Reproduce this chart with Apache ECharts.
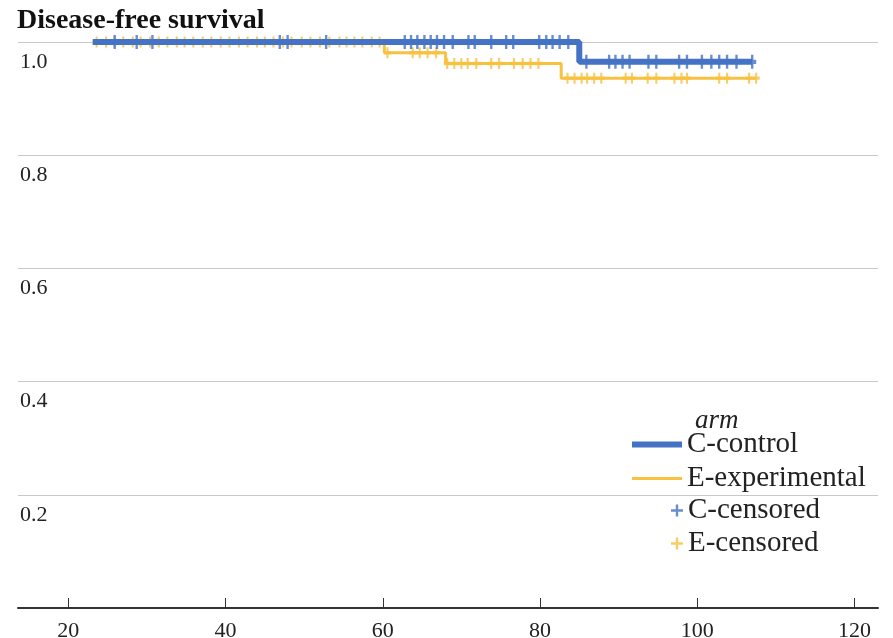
<!DOCTYPE html>
<html>
<head>
<meta charset="utf-8">
<title>Disease-free survival</title>
<script src="https://cdn.jsdelivr.net/npm/echarts@6/dist/echarts.min.js"></script>
<style>
  html, body { margin: 0; padding: 0; background: #fff; }
  #chart { width: 893px; height: 638px; }
</style>
</head>
<body>
<div id="chart"></div>
<script>
// Kaplan-Meier step curves: [time, survival after that time]
const controlSteps = [[23.1, 1.0], [85.0, 0.965], [107.0, 0.965]];
const experimentalSteps = [[23.1, 1.0], [60.2, 0.981], [68.0, 0.962], [82.7, 0.936], [107.5, 0.936]];

// Censoring times per arm
const controlCensored = [
  25.9, 28.7, 30.7, 46.9, 47.9, 52.8, 62.8, 63.6, 64.4, 65.3, 66.1, 66.9, 67.8, 68.9,
  70.9, 71.7, 73.8, 75.7, 76.6, 79.9, 80.8, 81.6, 82.5, 83.6,
  85.9, 88.8, 89.6, 90.5, 91.4, 93.8, 94.8, 97.7, 98.7, 100.6, 101.8, 102.8, 103.8, 105.0, 107.0
];
const experimentalCensored = [
  23.6, 24.8, 25.9, 27.0, 28.2, 29.2, 30.4, 31.5, 32.6, 33.8, 34.8, 35.9, 37.1, 38.2,
  39.4, 40.5, 41.7, 42.8, 44.0, 45.0, 46.1, 47.3, 48.4, 49.7, 50.8, 52.0, 53.2, 54.5,
  55.4, 56.4, 57.4, 58.6, 59.6,
  60.6, 63.8, 64.7, 65.7, 66.8,
  68.2, 69.1, 70.0, 70.8, 71.9, 73.8, 74.8, 76.7, 77.8, 78.8, 79.8,
  83.5, 84.4, 85.3, 86.0, 86.9, 87.8, 90.9, 91.7, 93.7, 94.8, 97.1, 98.0, 98.7,
  102.8, 103.8, 106.6, 107.5
];

const xTicks = [20, 40, 60, 80, 100, 120];
const armNames = ['C-control', 'E-experimental'];
const censorNames = ['C-censored', 'E-censored'];

const blue = '#4472C4';
const gold = '#F8C13F';
const serif = '"Liberation Serif", "DejaVu Serif", serif';

// survival value of a step curve at time t
function survivalAt(steps, t) {
  let s = steps[0][1];
  for (const [time, val] of steps) {
    if (time <= t) s = val;
  }
  return s;
}

const plus = 'path://M3.5,0H6.5V3.5H10V6.5H6.5V10H3.5V6.5H0V3.5H3.5Z';
const legendPlus = 'path://M4,0H6V4H10V6H6V10H4V6H0V4H4Z';
// legend swatches: a thick bar for the control arm, a thinner one for the experimental arm
const thickBar = 'path://M0,0H50V6H0Z';
const thinBar = 'path://M0,1.5H50V4.5H0Z';

const chart = echarts.init(document.getElementById('chart'), null, { renderer: 'canvas' });

chart.setOption({
  animation: false,
  backgroundColor: '#fff',
  title: [
    {
      text: 'Disease-free survival',
      left: 17, top: 7, padding: 0,
      textStyle: { fontFamily: serif, fontSize: 28, fontWeight: 'bold', color: '#111' }
    },
    {
      text: 'arm',
      left: 695, top: 407, padding: 0,
      textStyle: { fontFamily: serif, fontSize: 27, fontStyle: 'italic', fontWeight: 'normal', color: '#222' }
    }
  ],
  legend: [
    {
      data: [
        { name: armNames[0], icon: thickBar },
        { name: armNames[1], icon: thinBar }
      ],
      orient: 'vertical',
      left: 632, top: 429, padding: 0,
      itemWidth: 50, itemHeight: 6, itemGap: 3,
      symbolKeepAspect: true,
      textStyle: { fontFamily: serif, fontSize: 29, color: '#222', lineHeight: 31 }
    },
    {
      data: [
        { name: censorNames[0], icon: legendPlus },
        { name: censorNames[1], icon: legendPlus }
      ],
      orient: 'vertical',
      left: 671, top: 495, padding: 0,
      itemWidth: 12, itemHeight: 12, itemGap: 2,
      textStyle: { fontFamily: serif, fontSize: 29, color: '#222', lineHeight: 31 }
    }
  ],
  grid: { left: 18, right: 15, top: 42, bottom: 30, containLabel: false, outerBoundsMode: 'none' },
  xAxis: {
    type: 'value',
    min: 13.6, max: 123,
    axisLine: { show: true, lineStyle: { color: '#333', width: 2 } },
    axisTick: { show: true, inside: true, length: 10, customValues: xTicks, lineStyle: { color: '#333', width: 1 } },
    axisLabel: { customValues: xTicks, margin: 12, fontFamily: serif, fontSize: 22, color: '#222' },
    splitLine: { show: false }
  },
  yAxis: {
    type: 'value',
    min: 0, max: 1, interval: 0.2,
    axisLine: { show: false },
    axisTick: { show: false },
    axisLabel: {
      inside: true, margin: 2,
      verticalAlign: 'top', padding: [9, 0, 0, 0],
      fontFamily: serif, fontSize: 22, color: '#222',
      formatter: v => (v === 0 ? '' : v.toFixed(1))
    },
    splitLine: { show: true, lineStyle: { color: '#c8c8c8', width: 1 } }
  },
  series: [
    {
      name: 'E-experimental', type: 'line', step: 'end', symbol: 'none',
      data: experimentalSteps,
      lineStyle: { color: gold, width: 3 }, itemStyle: { color: gold }
    },
    {
      name: 'E-censored', type: 'scatter', symbol: plus, symbolSize: [7, 11],
      data: experimentalCensored.map(t => [t, survivalAt(experimentalSteps, t)]),
      itemStyle: { color: gold }
    },
    {
      name: 'C-control', type: 'line', step: 'end', symbol: 'none',
      data: controlSteps,
      lineStyle: { color: blue, width: 6 }, itemStyle: { color: blue }
    },
    {
      name: 'C-censored', type: 'scatter', symbol: plus, symbolSize: [8, 14],
      data: controlCensored.map(t => [t, survivalAt(controlSteps, t)]),
      itemStyle: { color: blue }
    }
  ]
});
</script>
</body>
</html>
